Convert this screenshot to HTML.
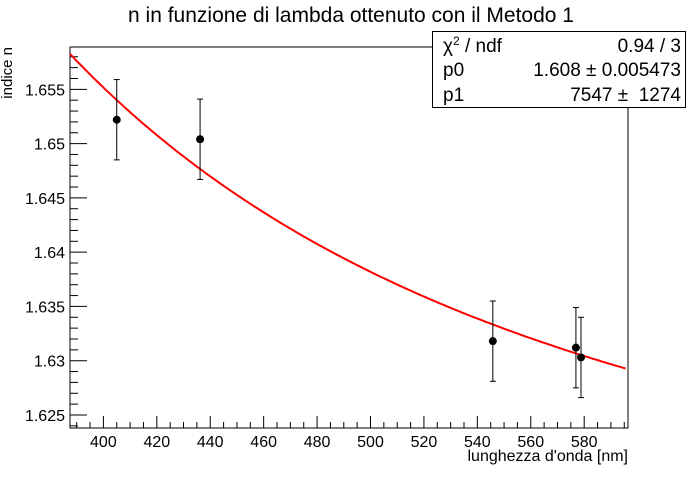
<!DOCTYPE html>
<html><head><meta charset="utf-8"><style>
body{margin:0;background:#fff}
svg text{font-family:"Liberation Sans",sans-serif;fill:#000}
</style></head><body>
<svg id="c" width="698" height="476" xmlns="http://www.w3.org/2000/svg">
<rect width="698" height="476" fill="#fff"/>
<text x="351" y="22" font-size="21" text-anchor="middle">n in funzione di lambda ottenuto con il Metodo 1</text>
<rect x="70" y="47" width="558" height="381" fill="none" stroke="#000" stroke-width="1"/>
<g id="axes"></g>
<g id="fit"></g>
<g id="pts"></g>
<text x="628" y="461" font-size="16" text-anchor="end">lunghezza d'onda [nm]</text>
<text transform="translate(12,47) rotate(-90)" font-size="15" text-anchor="end">indice n</text>
<g>
<rect x="432.5" y="31.5" width="253" height="76" fill="#fff" stroke="#000"/>
<text x="443" y="52" font-size="19">χ<tspan dy="-7" font-size="12">2</tspan><tspan dy="7"> / ndf</tspan></text>
<text x="681" y="52" font-size="19" text-anchor="end">0.94 / 3</text>
<text x="443" y="76" font-size="19">p0</text>
<text x="681" y="76" font-size="19" text-anchor="end">1.608 ± 0.005473</text>
<text x="443" y="101" font-size="19">p1</text>
<text x="681" y="101" font-size="19" text-anchor="end" style="white-space:pre">7547 ±  1274</text>
</g>
</svg>
<script>
const lambdas=[405,436.2,545.8,576.9,578.8];
const nvals=[1.6522,1.6504,1.6318,1.6312,1.6303];
const nerrs=[0.0037,0.0037,0.0037,0.0037,0.0037];
const xTicks=[400,420,440,460,480,500,520,540,560,580];
const yTicks=[1.625,1.63,1.635,1.64,1.645,1.65,1.655];
const yTickLabels=["1.625","1.63","1.635","1.64","1.645","1.65","1.655"];
const fitP0=1.608, fitP1=7547;
const X0=387.5,X1=596.4,Y0=1.6238,Y1=1.6589;
const L=70,R=628,T=47,B=428;
const sx=v=>L+(v-X0)/(X1-X0)*(R-L);
const sy=v=>B-(v-Y0)/(Y1-Y0)*(B-T);
const NS="http://www.w3.org/2000/svg";
function mk(t,a,p){const e=document.createElementNS(NS,t);for(const k in a)e.setAttribute(k,a[k]);p.appendChild(e);return e;}
const ax=document.getElementById('axes');
for(let v=390;v<=595;v+=5){
 const maj=v%20===0;const x=sx(v);
 const l=mk('line',{x1:x,x2:x,y1:B,y2:B-(maj?12:6),stroke:'#000'},ax);
 
 
}
xTicks.forEach(v=>{const t=mk('text',{x:sx(v),y:B+19,'font-size':16,'text-anchor':'middle'},ax);t.textContent=v;
 
 });
for(let i=0;i<=35;i++){
 const v=1.624+i*0.001; if(v>Y1)break;
 const r=Math.round(v*1000)%5;
 const maj=r===0;
 const y=sy(v);
 const l=mk('line',{x1:L,x2:L+(maj?17:8),y1:y,y2:y,stroke:'#000'},ax);
 
 
}
yTicks.forEach((v,i)=>{const t=mk('text',{x:L-5,y:sy(v)+6,'font-size':16,'text-anchor':'end'},ax);t.textContent=yTickLabels[i];
 
 });
let d='';for(let v=X0;v<=X1;v+=1){d+=(d?'L':'M')+sx(v).toFixed(1)+','+sy(fitP0+fitP1/(v*v)).toFixed(1);}
const f=mk('path',{d:d,fill:'none',stroke:'#f00','stroke-width':2},document.getElementById('fit'));


const pg=document.getElementById('pts');
lambdas.forEach((lx,i)=>{
 const x=sx(lx),y=sy(nvals[i]),yt=sy(nvals[i]+nerrs[i]),yb=sy(nvals[i]-nerrs[i]);
 const g=mk('g',{},pg);
 
 
 mk('line',{x1:x,x2:x,y1:yt,y2:yb,stroke:'#000'},g);
 mk('line',{x1:x-3,x2:x+3,y1:yt,y2:yt,stroke:'#000'},g);
 mk('line',{x1:x-3,x2:x+3,y1:yb,y2:yb,stroke:'#000'},g);
 mk('circle',{cx:x,cy:y,r:4,fill:'#000'},g);
});
</script>
</body></html>
